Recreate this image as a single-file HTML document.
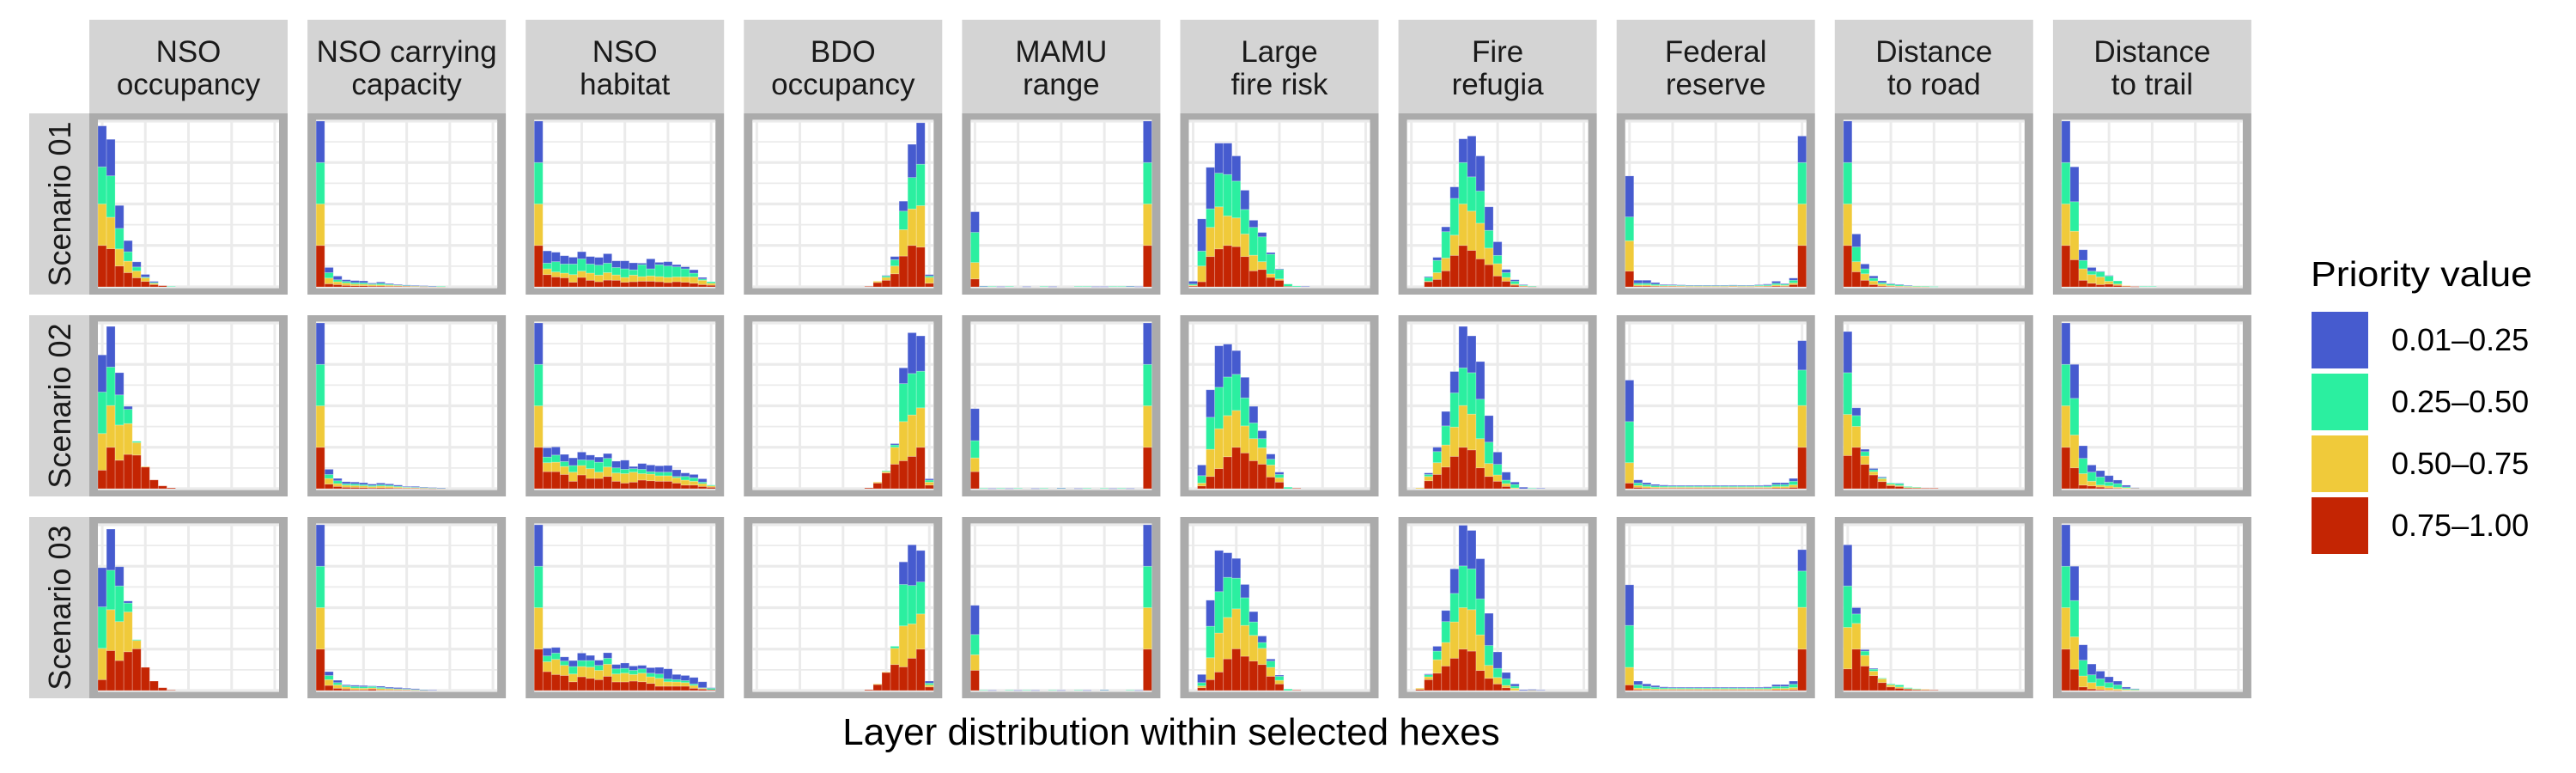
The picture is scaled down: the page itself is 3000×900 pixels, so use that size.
<!DOCTYPE html>
<html><head><meta charset="utf-8"><style>
html,body{margin:0;padding:0;background:#fff;}
svg{display:block;font-family:"Liberation Sans",Arial,sans-serif;}
</style></head><body>
<svg id="chart" width="3000" height="900" viewBox="0 0 3000 900" xmlns="http://www.w3.org/2000/svg">
<rect x="0" y="0" width="3000" height="900" fill="#ffffff"/>
<g id="panels"></g>
<text x="1364" y="867" font-size="44" text-anchor="middle" fill="#000">Layer distribution within selected hexes</text>
<g id="legend">
<text x="2691" y="333" font-size="41" textLength="258" lengthAdjust="spacingAndGlyphs" fill="#000">Priority value</text>
</g>
</svg>
<script>
const layerNames = [["NSO","occupancy"],["NSO carrying","capacity"],["NSO","habitat"],["BDO","occupancy"],["MAMU","range"],["Large","fire risk"],["Fire","refugia"],["Federal","reserve"],["Distance","to road"],["Distance","to trail"]];
const scenarioNames = ["Scenario 01","Scenario 02","Scenario 03"];
const classLabels = ["0.01\u20130.25","0.25\u20130.50","0.50\u20130.75","0.75\u20131.00"];
const binCount = 21;

// values in % of panel height (stacked): red bottom, yellow, green, blue top
const redSeries = [
 [
  [25,23,12.6,8.6,5.5,3.3,1.4,.7],
  [25,1.9,1.4,.9,.7,.7,.5,.5,.4,.4,.3,.3,.2,.1,.1],
  [25,7.4,6.0,5.5,2.8,5.7,4.0,3.1,4.1,4.0,2.8,3.1,3.4,3.4,3.1,2.6,3.1,2.8,2.2,1.4,1.0],
  [0,0,0,0,0,0,0,0,0,0,0,0,0,.3,2.6,4.0,7.9,18.6,25,24,2.2],
  [4.8,0,0,0,0,0,0,0,0,0,0,0,0,0,0,0,0,0,0,0,25],
  [.5,3.1,18.3,22.9,25,24.3,18.3,9.7,10.5,5.7,4,.3],
  [0,0,3.1,4.5,9.7,19,25,22,16.9,13.4,6.6,3.4,1,.3,.2],
  [9.5,.5,.5,.4,.3,.3,.3,.2,.2,.2,.2,.2,.3,.2,.2,.3,.3,.5,.4,1.4,25],
  [25,9.1,4,1.4,.5,.3,.2,.1,.1,.1],
  [25,16.4,4,2.2,1.4,1.7,.9,.5,.2]
 ],
 [
  [11.2,25,17.2,20.7,20.3,13.1,5.3,1.7,.5],
  [25,2.8,1.4,.9,.8,.7,.5,.6,.5,.4,.3,.3,.2,.1,.1],
  [25,10.3,10.3,8.6,4.5,8.3,6.2,6.2,7.4,4.5,3.4,4,5.2,4.8,4.5,4.5,3.4,2.2,2.2,1.4,.9],
  [0,0,0,0,0,0,0,0,0,0,0,0,0,.5,3.4,9.5,14.8,16.9,19.5,25,2.2],
  [10.3,0,0,0,0,0,0,0,0,0,0,0,0,0,0,0,0,0,0,0,25],
  [0,1.7,7.4,12.1,19.3,25,21.6,16.9,14.8,7.1,4,0,.3],
  [0,0,4.8,8.6,13.1,19.5,25,23.4,12.6,7.4,4.5,1.4,0],
  [3.4,.8,.5,.4,.4,.4,.4,.4,.4,.4,.4,.4,.4,.4,.4,.4,.4,.5,.5,.8,25],
  [20,25,14.7,8.3,4.3,1.9,1.4,.5,.5,.3,.3],
  [25,12.6,2.2,1.7,1,.5,.3]
 ],
 [
  [6.6,24.1,18.1,23.4,25.2,14,5.7,1.7,.3],
  [25,3.1,1.4,.9,.5,.5,.9,.3,.3,.3,.3,.2,.1],
  [25,11.4,9.7,9.1,5.3,8.3,7.4,6.6,8.6,5.2,5.2,5.7,5.3,4.3,2.6,2.6,2.6,2.6,1.4,.9,.5],
  [0,0,0,0,0,0,0,0,0,0,0,0,0,.5,3.6,10.9,15.7,14.3,19.5,25,2.2],
  [12.2,0,0,0,0,0,0,0,0,0,0,0,0,0,0,0,0,0,0,0,25],
  [0,1.7,6.6,11.2,19.1,25.2,20.7,17.8,15.7,8.6,4,0,.3],
  [0,.7,6.6,10.5,14.8,19.5,25,23.8,12.1,7.4,4,1.7,0],
  [3.4,.5,.4,.4,.4,.4,.4,.4,.4,.4,.4,.4,.4,.4,.4,.4,.4,.5,.5,.6,25],
  [13.1,25,14.8,9,4.8,2.2,1.4,.9,.6,.5,.3],
  [25,12.9,2.2,1,.5,.2,.1]
 ]
];
const yellowSeries = [
 [
  [25,19,10.3,6.9,4.1,2.1,.7,0],
  [25,3.4,1.7,1.4,1,.9,.8,.7,.6,.4,.3,.2,.2,.1,.1],
  [25,3.5,3.0,2.8,4.6,3.8,4.3,4.0,4.5,3.2,2.9,4.0,2.8,3.2,3.1,3.1,2.9,3.2,3.8,2.6,1.2],
  [0,0,0,0,0,0,0,0,0,0,0,0,0,0,.8,1.7,4.7,15.9,22,25,3.5],
  [9.9,0,0,0,0,0,0,0,0,0,0,0,0,0,0,0,0,0,0,0,25],
  [.5,9.5,17.6,25.4,17.8,17.3,13.6,9.4,4.7,2.1,.8,0],
  [0,0,.3,4.1,7.7,12.2,25,23.7,21.5,10,7.4,2.3,.7,.3],
  [18.3,.7,.7,.4,.3,.3,.2,.2,.2,.2,.2,.2,.2,.2,.2,.2,.3,.7,.5,.9,25],
  [25,6.1,3.9,2.2,1.2,.5,.3,.2,.1,.1],
  [25,17.2,6.9,5.2,4.6,1.7,.8,.2]
 ],
 [
  [22.1,25.2,21.2,18.6,7.5,.3],
  [25,3.4,1.7,1.2,1.1,1,.8,1,.9,.6,.4,.3,.3,.2,.1],
  [25,5.4,5.7,4.8,5.5,5.7,5.9,3.8,5.7,5,5.7,6,3.9,4,3.3,3.3,3.2,3,2.3,1.7,.8],
  [0,0,0,0,0,0,0,0,0,0,0,0,0,0,.6,.8,10.2,23.6,25,23.8,1.8],
  [8.3,0,0,0,0,0,0,0,0,0,0,0,0,0,0,0,0,0,0,0,25],
  [0,1.7,16.4,24.1,24.8,22.2,16.3,13.3,9.9,7.2,2.6],
  [0,.5,2.6,7.1,13.3,17.7,25.2,21.6,17.6,7.8,3.8,1.7,.5],
  [12.3,1.2,.8,.6,.5,.5,.5,.5,.5,.5,.5,.5,.5,.5,.5,.5,.5,.8,.8,1.5,25.2],
  [24.8,12.6,5,2,1.7,.7,.5,.3,.2],
  [25,19.8,6.9,2.8,1.2,1.2,.6,.5,.3]
 ],
 [
  [18.9,24.7,23.5,24,5],
  [25,3.5,2,1.2,1,.9,.7,.9,.7,.5,.3,.2,.1],
  [25,6,9.1,6.1,4.7,6.2,6.7,5.6,7.3,4.8,5.3,4,5.2,4,4.8,2.7,2.6,2.2,1.7,.5,0],
  [0,0,0,0,0,0,0,0,0,0,0,0,0,0,.4,.3,9.8,24.7,20.7,21.2,1.2],
  [9.4,0,0,0,0,0,0,0,0,0,0,0,0,0,0,0,0,0,0,0,25],
  [0,1.1,13.2,23.5,25,24.1,18.6,15.5,9.8,5.4,2.2],
  [0,.7,1.7,8.1,14.2,21.9,25,25,21.5,7.8,3.9,1.4,1.4,0,.2],
  [10.6,1,.8,.6,.5,.5,.5,.5,.5,.5,.5,.5,.5,.5,.5,.5,.5,.8,.8,1.2,25.2],
  [25,15.5,6.4,2.7,2.3,1.2,.8,.3,.2,.2],
  [25,19.5,6.6,3.8,2.1,1.5,.8,.5,.3]
 ]
];
const greenSeries = [
 [
  [22.4,25,12.4,5.7,2.4,.5,.5,0,.3],
  [25,3.3,1.2,1,.9,.9,.5,.9,.5,.3,.2,.2,.2,.1,.1],
  [25,3.4,6.2,5.5,6.4,7.4,5.5,6.0,5.7,4.5,5.2,3.2,7.2,4.3,7.2,6.9,6.1,4.9,2.3,0.8,0.9],
  [0,0,0,0,0,0,0,0,0,0,0,0,0,0,0,.9,3.8,11.2,19,25,.9],
  [18.2,.3,.3,0,.3,0,0,0,.3,0,0,0,.3,.3,0,0,.3,.3,.3,0,25],
  [.7,9.0,11.2,20.3,25,22.2,14.8,16.8,15,11.9,5.7,1.4,.5],
  [0,0,2.3,7.4,15.9,22.2,25,20.7,19.4,10.7,5,2.9,1.7,.5,.2],
  [14.4,1,1,.8,.5,.4,.4,.4,.4,.4,.4,.4,.4,.4,.4,.5,.6,1,.7,1.7,25],
  [25,8.9,3,1.6,.9,.9,.8,.5,.3,.2,.2],
  [25,17.8,5.1,2.1,3.1,3.2,1.9,0,0,.3,.3]
 ],
 [
  [25,23.2,18.2,8.6,.8],
  [25,2.4,1.7,.9,1,.8,.7,.8,.7,.5,.3,.3,.2,.2,.1],
  [25,3.4,4.3,3,4,3.4,5.1,6,5.2,3.1,2.6,2.1,2.6,1.5,2.2,2.2,.8,2.2,2.1,.9,.5],
  [0,0,0,0,0,0,0,0,0,0,0,0,0,0,0,.5,1.4,22.9,25,22.1,1.2],
  [10.4,.3,0,.3,0,.3,0,0,.3,0,.3,0,0,.3,0,.3,0,.3,0,0,25],
  [0,4.5,19.3,25,23.3,21.8,16.9,9.5,5.5,3.5,2,.9],
  [0,0,1.2,6.7,11.5,20.6,22.7,25,23.8,12.9,6.4,2.1,2.1,0,.3],
  [24.8,1.5,1.2,.8,.7,.6,.6,.6,.6,.6,.6,.6,.6,.6,.6,.6,.7,1.2,1.2,2.2,21.4],
  [25.2,6.5,2.7,1.1,.6,.8,1.2,.5,.3],
  [25,22.1,9.2,5.5,4.9,2.3,2.2,.6]
 ],
 [
  [25,23.8,21.5,5.4,.5],
  [25,2.5,1.4,.9,1,.9,.9,.7,.3,.3,.3,.2,.1],
  [25,3.5,3.8,2.6,4.5,3.6,4,3,3.6,3.1,2.9,2.5,2.6,2.2,2.6,1.7,1.4,1.2,.9,.3,.9],
  [0,0,0,0,0,0,0,0,0,0,0,0,0,0,0,0,1.2,25,23.2,19.3,1.1],
  [12.2,.3,0,0,.3,0,.3,0,0,.3,0,0,.3,0,0,.3,0,0,.3,0,25],
  [0,2,19,25,24.2,18.5,16.7,8.1,3.5,3.8,2.4,.9],
  [0,0,1.2,5.2,12.6,17.2,25.2,24.6,21.7,12,5.5,4,1.2],
  [25.3,2,1.4,1,.7,.6,.6,.6,.6,.6,.6,.6,.6,.6,.6,.6,.7,1.2,1.2,2,21.9],
  [25,5.7,2.6,1.2,.4,.6,1.2,.5,.3],
  [25,21.9,9.5,4.7,4.5,3.1,2.5,.6,.5]
 ]
];
const blueSeries = [
 [
  [24.7,22,13.8,6.7,3.1,1.6,.7],
  [25,3.1,2.2,1,1.2,1.1,.5,.8,.5,.4,.3,.2,.1,.1],
  [25,7.4,5.7,5.0,4.1,4.3,4.5,4.7,5.7,4.0,4.8,4.2,0.9,6.0,1.4,2.6,1.3,1.2,2.0,0.9,0],
  [0,0,0,0,0,0,0,0,0,0,0,0,0,0,0,.3,1.9,6.0,20,25,.8],
  [12.4,.2,0,.2,0,0,.2,0,0,.2,0,0,0,0,.2,.2,0,0,.2,.2,25],
  [1.7,19.4,25,18.1,18.9,15.2,11.6,4.3,2.6,1,.4,0,0,.3],
  [0,0,.5,1.8,2.9,6.9,14.3,24.6,21.2,14.2,8.2,1.9,.9,.3],
  [24.7,1.8,1.8,1,.4,.4,.3,.2,.2,.2,.2,.2,.2,.2,.2,.3,.5,1.2,.4,1.3,16],
  [25,7.8,2.9,1.4,1,.3,.2,.1],
  [25,21,6.4,2.2,.3,.3]
 ],
 [
  [22.4,24.5,13.4,1.8],
  [25,3.1,1.4,1.2,1.1,1.1,.8,1,.8,.7,.4,.5,.3,.2,.1],
  [25,5.6,4.9,4.3,4.6,4.7,3.1,3.1,2.9,4,5.5,1.3,3.5,4,3.8,4,4,2.1,2,2,0],
  [0,0,0,0,0,0,0,0,0,0,0,0,0,0,0,0,.8,9.5,24.6,21.3,.8],
  [19.3,0,.2,0,.2,0,0,.2,0,0,.2,0,.2,0,0,0,.2,0,.2,0,25],
  [0,6.4,16.6,25,19.8,14.3,12.4,10,4.8,3.1,1.4],
  [0,0,.9,2.6,8.7,12.9,25,22.2,22.7,16,7.4,4.8,1.4,.9,0,.3],
  [25,1.8,1.1,.8,.6,.5,.5,.5,.5,.5,.5,.5,.5,.5,.5,.5,.6,1.1,1.1,1.7,17.7],
  [24.8,4.7,1.4,.8,.5,0,.2],
  [25,20.5,7.6,4.3,3.8,3.9,2.1,1,.3]
 ],
 [
  [23.6,24.8,11.6,1.2],
  [25,2.3,1.4,.5,.7,.7,.3,.7,.7,.7,.5,.5,.2,.3],
  [25,4.6,3.4,2.5,3.6,4.5,3.1,3.1,3.3,2.6,3.2,2.6,2.1,3.3,4,6.1,3.1,3.1,3.9,3.6,.3],
  [0,0,0,0,0,0,0,0,0,0,0,0,0,0,0,0,0,13.6,24.5,19,1.2],
  [17.6,0,.2,0,0,.2,0,.2,0,0,.2,0,0,.2,0,.2,0,0,0,.2,25],
  [0,4.9,15.7,24.8,14.8,11.9,8,6.2,3.9,1.2,.7],
  [0,0,.5,2.9,6.7,14.8,24.5,23.2,24.2,19.4,9.9,3.8,1.4,.5,.5,.3],
  [24.5,2.2,1.4,1,.6,.5,.5,.5,.5,.5,.5,.5,.5,.5,.5,.5,.6,1.1,1.1,1.9,12.9],
  [24.8,3.8,.9,.5],
  [25,20.7,9.3,6.5,4.6,3.5,2.3,1,.3]
 ]
];
const yTicksMajor = [0,25,50,75,100];
const yTicksMinor = [12.5,37.5,62.5,87.5];
const xGridValues = [0.5,5.5,10.5,15.5,20.5];

const NS = "http://www.w3.org/2000/svg";
const COLORS = {red:"#C42503", yellow:"#F0CA3A", green:"#2BEFA0", blue:"#465BCF"};
const colPitch = 254.1, colX0 = 104, panelW = 231;
const rowPitch = 235, rowY0 = 132, panelH = 211;
const innerOffX = 10, innerOffY = 9, innerW = 211, innerH = 193;
function mk(tag, attrs, parent){ const e=document.createElementNS(NS,tag); for(const k in attrs) e.setAttribute(k,attrs[k]); parent.appendChild(e); return e; }
function xScale(c, binPos){ return colX0 + c*colPitch + innerOffX + binPos*innerW/binCount; }
function yScale(r, v){ return rowY0 + r*rowPitch + innerOffY + innerH - v/100*innerH; }

const panelsG = document.getElementById('panels');
// column strips
layerNames.forEach((nm, c) => {
  const g = mk('g', {}, panelsG);
  
  
  const x = colX0 + c*colPitch;
  const r = mk('rect', {x:x, y:23, width:panelW, height:109, fill:'#D4D4D4'}, g);
  
  
  nm.forEach((line, i) => {
    const t = mk('text', {x:x+panelW/2, y:72 + i*38, 'font-size':35, 'text-anchor':'middle', fill:'#1A1A1A'}, g);
    
    
    t.textContent = line;
  });
});
// row strips
scenarioNames.forEach((nm, r) => {
  const g = mk('g', {}, panelsG);
  
  
  const y = rowY0 + r*rowPitch;
  const rr = mk('rect', {x:34, y:y, width:70, height:panelH, fill:'#D4D4D4'}, g);
  
  
  const cy = y + panelH/2;
  const t = mk('text', {x:0, y:0, 'font-size':36, 'text-anchor':'middle', fill:'#1A1A1A', transform:'translate(82,'+cy+') rotate(-90)'}, g);
  
  
  t.textContent = nm;
});
// panels
for (let r=0; r<3; r++) {
  for (let c=0; c<10; c++) {
    const g = mk('g', {}, panelsG);
    
    
    const px = colX0 + c*colPitch, py = rowY0 + r*rowPitch;
    const border = mk('rect', {x:px, y:py, width:panelW, height:panelH, fill:'#ABABAB'}, g);
    
    
    const ix = px+innerOffX, iy = py+innerOffY;
    const bg = mk('rect', {x:ix, y:iy, width:innerW, height:innerH, fill:'#FFFFFF'}, g);
    
    
    yTicksMinor.forEach(v => {
      const l = mk('line', {x1:ix, x2:ix+innerW, y1:yScale(r,v), y2:yScale(r,v), stroke:'#EBEBEB', 'stroke-width':1.7}, g);
      
      
    });
    yTicksMajor.forEach(v => {
      const l = mk('line', {x1:ix, x2:ix+innerW, y1:yScale(r,v), y2:yScale(r,v), stroke:'#EBEBEB', 'stroke-width':3.3}, g);
      
      
    });
    xGridValues.forEach(v => {
      const xx = xScale(c, v*binCount/21);
      const l = mk('line', {x1:xx, x2:xx, y1:iy, y2:iy+innerH, stroke:'#EBEBEB', 'stroke-width':3}, g);
      
      
    });
    const seriesList = [['red', redSeries],['yellow', yellowSeries],['green', greenSeries],['blue', blueSeries]];
    for (let b=0; b<binCount; b++) {
      let cum = 0;
      seriesList.forEach(([cname, arr]) => {
        const v = arr[r][c][b] || 0;
        if (v <= 0) return;
        const y0 = yScale(r, cum), y1 = yScale(r, cum+v);
        cum += v;
        const rect = mk('rect', {x:xScale(c,b), y:y1, width:innerW/binCount, height:Math.max(y0-y1,0.6), fill:COLORS[cname], stroke:'rgba(255,255,255,0.3)', 'stroke-width':0.8}, g);
        
        
      });
    }
  }
}
// legend
const legendG = document.getElementById('legend');
const legendColors = [COLORS.blue, COLORS.green, COLORS.yellow, COLORS.red];
classLabels.forEach((lab, i) => {
  const y = 363 + i*72;
  const k = mk('rect', {x:2692, y:y, width:66, height:66, fill:legendColors[i]}, legendG);
  
  
  const t = mk('text', {x:2785, y:y+45, 'font-size':36, fill:'#000'}, legendG);
  
  
  t.textContent = lab;
});
</script>
</body></html>
